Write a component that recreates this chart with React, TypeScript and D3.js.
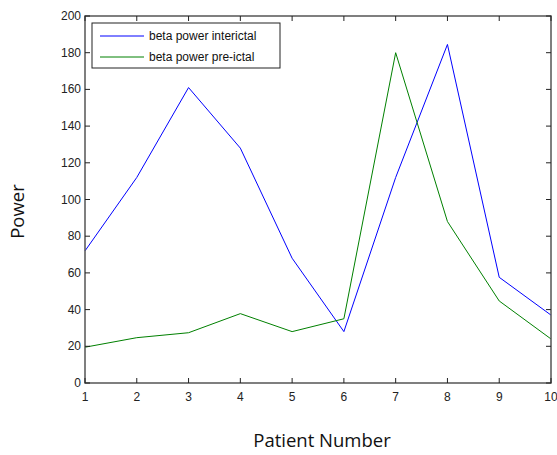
import React from "react";
import * as d3 from "d3";

const patients = [1, 2, 3, 4, 5, 6, 7, 8, 9, 10];
const interictal = [72, 112, 161, 128, 68, 28, 112, 184.5, 57.6, 37];
const preictal = [19.5, 24.7, 27.4, 37.8, 28, 35, 180, 88, 44.7, 24];
const yTicks = [0, 20, 40, 60, 80, 100, 120, 140, 160, 180, 200];
const seriesNames = ["beta power interictal", "beta power pre-ictal"];
const seriesColors = ["#0000ff", "#008000"];

const W = 557;
const H = 455;
const M = { left: 85, right: 6, top: 16, bottom: 72 };

export default function App() {
  const x = d3.scaleLinear().domain([1, 10]).range([M.left, W - M.right]);
  const y = d3.scaleLinear().domain([0, 200]).range([H - M.bottom, M.top]);
  const line = d3
    .line<number>()
    .x((_, i) => x(patients[i]))
    .y((d) => y(d));
  const x0 = x(1), x1 = x(10), y0 = y(0), y1 = y(200);
  const tl = 5;
  const tickFont = "'Liberation Sans', Arial, sans-serif";
  const titleFont = "'Open Sans', 'Noto Sans', sans-serif";
  const series = [interictal, preictal];

  return (
    <svg
      width={W}
      height={H}
      style={{ position: "absolute", left: 0, top: 0, background: "#fff" }}
    >
      {/* data lines */}
      {series.map((s, i) => (
        <path key={i} d={line(s) ?? ""} fill="none" stroke={seriesColors[i]} strokeWidth={1} />
      ))}

      {/* frame */}
      <rect x={x0} y={y1} width={x1 - x0} height={y0 - y1} fill="none" stroke="#555" strokeWidth={1.5} />

      {/* x ticks */}
      {patients.map((p) => (
        <g key={p}>
          <line x1={x(p)} x2={x(p)} y1={y0} y2={y0 - tl} stroke="#222" />
          <line x1={x(p)} x2={x(p)} y1={y1} y2={y1 + tl} stroke="#222" />
          <text
            x={x(p)}
            y={y0 + 18}
            textAnchor="middle"
            fontFamily={tickFont}
            fontSize={12}
            fill="#222"
          >
            {p}
          </text>
        </g>
      ))}

      {/* y ticks */}
      {yTicks.map((t) => (
        <g key={t}>
          <line x1={x0} x2={x0 + tl} y1={y(t)} y2={y(t)} stroke="#222" />
          <line x1={x1} x2={x1 - tl} y1={y(t)} y2={y(t)} stroke="#222" />
          <text
            x={x0 - 4}
            y={y(t) + 4}
            textAnchor="end"
            fontFamily={tickFont}
            fontSize={12}
            fill="#222"
          >
            {t}
          </text>
        </g>
      ))}

      {/* legend */}
      <rect x={92} y={23} width={188} height={45} fill="#fff" stroke="#222" strokeWidth={1} />
      {seriesNames.map((n, i) => (
        <g key={n}>
          <line x1={100} x2={144} y1={36 + i * 21} y2={36 + i * 21} stroke={seriesColors[i]} />
          <text x={149} y={40 + i * 21} fontFamily={tickFont} fontSize={12} fill="#111">
            {n}
          </text>
        </g>
      ))}

      {/* axis titles */}
      <text
        x={(x0 + x1) / 2 + 4}
        y={447}
        textAnchor="middle"
        fontFamily={titleFont}
        fontSize={18.5}
        fill="#111"
      >
        Patient Number
      </text>
      <text
        transform={`translate(24, ${(y0 + y1) / 2 + 12}) rotate(-90)`}
        textAnchor="middle"
        fontFamily={titleFont}
        fontSize={18.5}
        fill="#111"
      >
        Power
      </text>
    </svg>
  );
}
